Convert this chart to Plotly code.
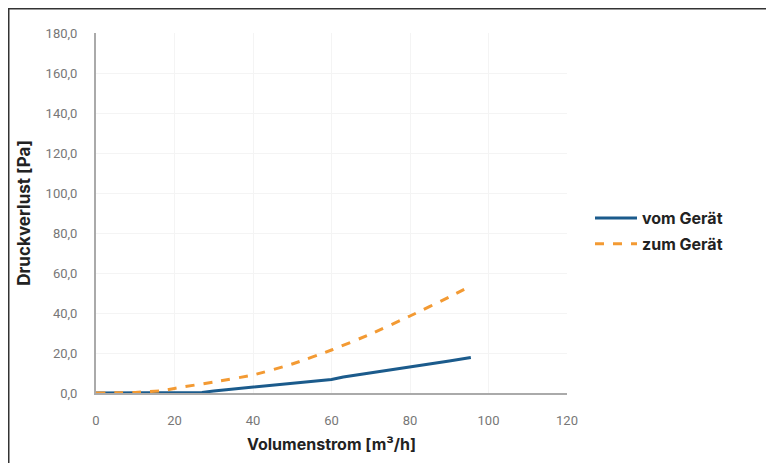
import plotly.graph_objects as go

x_vom = [0, 10, 20, 27, 30, 40, 50, 60, 63, 70, 80, 90, 95.5]
y_vom = [0, 0, 0, 0.3, 1, 3, 4.8, 6.8, 8, 10, 13, 16, 17.8]

x_zum = [0, 10, 17, 20, 30, 40, 50, 60, 70, 80, 90, 95]
y_zum = [0, 0.3, 1.2, 2.3, 5.5, 9, 14.5, 21.5, 29.5, 38.5, 48, 53]

x_ticks = [0, 20, 40, 60, 80, 100, 120]
y_ticks = [0, 20, 40, 60, 80, 100, 120, 140, 160, 180]

OFF = 8  # default page body margin
fig = go.Figure()
fig.add_trace(go.Scatter(x=x_vom, y=y_vom, mode="lines", name="vom Gerät", legendgroup="a",
                         line=dict(color="#1b5b8c", width=3)))
fig.add_trace(go.Scatter(x=x_zum, y=y_zum, mode="lines", name="zum Gerät", legendgroup="b",
                         line=dict(color="#f39a33", width=3, dash="dash", shape="spline", smoothing=0.5)))

W, H = 774 - OFF, 463 - OFF
L, T = 96 - OFF, 33 - OFF
R = W - (567 - OFF)
B = H - (393 - OFF)
pw, ph = W - L - R, H - T - B

def px_x(p):
    return (p - OFF - L) / pw

def px_y(p):
    return (H - B - (p - OFF)) / ph

TF = "Inter, Roboto, sans-serif"
fig.update_layout(
    width=W, height=H,
    margin=dict(l=L, r=R, t=T, b=B),
    paper_bgcolor="white", plot_bgcolor="white",
    separators=",.",
    font=dict(family=TF, color="#222"),
    showlegend=True,
    legend=dict(x=px_x(590), y=px_y(201), xanchor="left", yanchor="top",
                itemwidth=42,
                font=dict(size=16, color="#222", family=TF, weight="bold"),
                bgcolor="rgba(0,0,0,0)", tracegroupgap=2, traceorder="grouped"),
    xaxis=dict(range=[0, 120], tickvals=x_ticks, ticktext=[str(v) for v in x_ticks],
               showgrid=True, gridcolor="#f4f4f4", zeroline=False,
               showline=True, linecolor="#aaaaaa", linewidth=2,
               ticks="", ticklabelstandoff=14,
               tickfont=dict(size=13, color="#777", family="Roboto, sans-serif"),
               title=dict(text="Volumenstrom [m³/h]",
                          font=dict(size=16, color="#222", family=TF, weight="bold"),
                          standoff=12)),
    yaxis=dict(range=[0, 180], tickvals=y_ticks, tickformat=".1f",
               showgrid=True, gridcolor="#f4f4f4", zeroline=False,
               showline=True, linecolor="#aaaaaa", linewidth=2,
               ticks="", ticklabelstandoff=14,
               tickfont=dict(size=13, color="#777", family="Roboto, sans-serif"),
               title=dict(text="Druckverlust [Pa]",
                          font=dict(size=17, color="#222", family=TF, weight="bold"),
                          standoff=11)),
)

fig.add_shape(type="rect", xref="paper", yref="paper",
              x0=px_x(8.75), x1=px_x(790),
              y0=px_y(480), y1=px_y(8.75),
              line=dict(color="#333", width=1.5), fillcolor="rgba(0,0,0,0)", layer="below")

fig.write_html("out.html")
